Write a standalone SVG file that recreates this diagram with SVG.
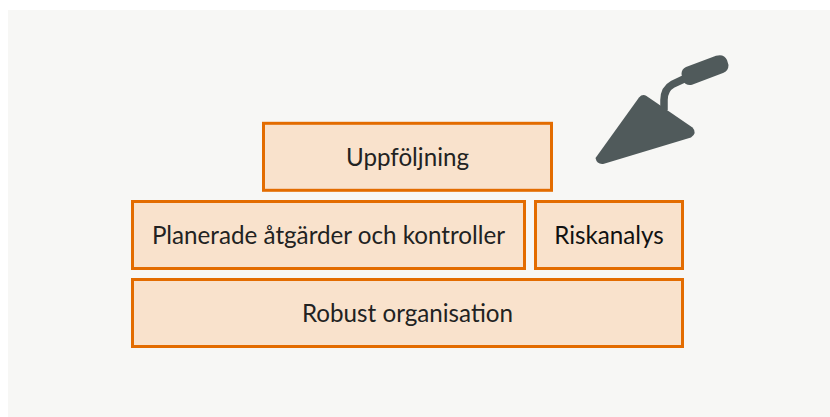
<svg xmlns="http://www.w3.org/2000/svg" width="830" height="417" viewBox="0 0 830 417">
<style>
.box{fill:#f9e2cc;stroke:#e36c00;stroke-width:3}
text{font-family:"Lato","Noto Sans",sans-serif;font-size:24.2px;fill:#222;text-anchor:middle}
</style>
<rect width="830" height="417" fill="#fff"/>
<rect x="8" y="10" width="822" height="407" fill="#f7f7f5"/>
<g id="uppfoljning"><rect class="box" x="263.500" y="123.300" width="288" height="67"/><text x="407.500" y="166">Uppföljning</text></g>
<g id="planerade"><rect class="box" x="132.500" y="201.500" width="392" height="67"/><text x="328.500" y="244">Planerade åtgärder och kontroller</text></g>
<g id="riskanalys"><rect class="box" x="535.500" y="201.500" width="147" height="67"/><text x="609" y="244" style="fill:#111">Riskanalys</text></g>
<g id="robust"><rect class="box" x="132.500" y="279.500" width="550" height="67"/><text x="407.500" y="321.500">Robust organisation</text></g>
<g id="trowel" fill="#505a5b">
<path d="M639 97.500Q642.500 93.500 646.500 96L692.500 127.500Q697.500 133 691 137.500L604 163.800Q597 165 595.500 158Z"/>
<path d="M664 110V100Q664 89 673 84L686 78" fill="none" stroke="#505a5b" stroke-width="7.500"/>
<path d="M686 67L716 55.800Q724 53.500 727 60L728.500 65Q728.500 71 723 73L692 84.800Q686 86 683 81L681.500 74Q681.500 69 686 67Z"/>
</g>
</svg>
